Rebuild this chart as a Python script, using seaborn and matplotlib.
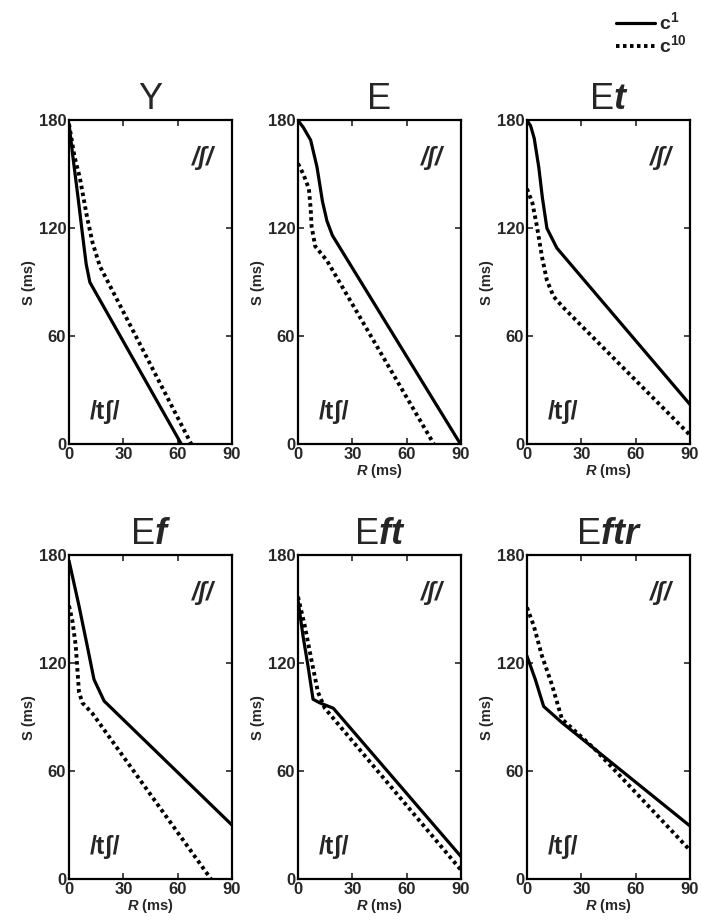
import pandas as pd
import seaborn as sns
import matplotlib.pyplot as plt

# valores (R em ms, S em ms)
titles = ["Y", "E", "E$\\it{t}$", "E$\\it{f}$", "E$\\it{ft}$", "E$\\it{ftr}$"]

r_c1 = [
    [0, 2, 5, 8, 9.5, 11.5, 62],
    [0, 3, 7, 10.5, 13.5, 16, 19, 89.7],
    [0, 2, 4, 6.5, 8.5, 11, 16.5, 90],
    [0, 5.5, 10, 13.8, 19.4, 90],
    [0, 2.8, 5.6, 8.3, 12, 19.5, 90],
    [0, 4.6, 9.2, 19.3, 90],
]
s_c1 = [
    [178, 161, 137, 112, 100, 90, 0],
    [180, 176, 169, 154, 135, 124, 116, 0],
    [180, 177, 170, 154, 137, 120, 109, 22],
    [177, 152, 130, 111, 99, 30],
    [155, 135, 118, 100, 98, 95, 12.5],
    [124, 111, 96, 87, 29.5],
]
r_c10 = [
    [0, 3, 6, 10, 13, 17, 67.5],
    [0, 3, 6, 7, 7.5, 9.5, 16, 75],
    [0, 3, 5.5, 8.3, 11, 14.7, 20, 90],
    [0, 1.8, 3.7, 5.5, 7.4, 13, 78.4],
    [0, 3.7, 7.4, 11, 14.8, 90],
    [0, 3.7, 8.3, 13.8, 19.3, 37.7, 90],
]
s_c10 = [
    [178, 160, 148, 126, 112, 99, 0],
    [156, 150, 142, 131, 121, 110, 102, 0],
    [142, 134, 121, 104, 91, 82, 76, 5],
    [152, 144, 130, 104, 98, 92, 0],
    [157, 141, 122, 104, 95, 5],
    [151, 141, 124, 108, 89, 72, 16],
]
x_ticks = [0, 30, 60, 90]
y_ticks = [0, 60, 120, 180]

sns.set_style("ticks", rc={'xtick.direction': 'in', 'ytick.direction': 'in',
                           'axes.edgecolor': 'black'})
plt.rcParams['font.family'] = ['Liberation Sans', 'DejaVu Sans']
plt.rcParams['mathtext.fontset'] = 'custom'
plt.rcParams['mathtext.rm'] = 'Liberation Sans'
plt.rcParams['mathtext.it'] = 'Liberation Sans:italic:bold'
plt.rcParams['mathtext.bf'] = 'Liberation Sans:bold'

fig = plt.figure(figsize=(7.02, 9.22), dpi=100)

lefts = [0.0983, 0.4245, 0.7507]
bottoms = [0.5184, 0.0466]
dot_style = (0, (0.9, 0.9))

for i in range(6):
    ax = fig.add_axes([lefts[i % 3], bottoms[i // 3], 0.2322, 0.351])
    d1 = pd.DataFrame({'R': r_c1[i], 'S': s_c1[i]})
    d10 = pd.DataFrame({'R': r_c10[i], 'S': s_c10[i]})
    sns.lineplot(x='R', y='S', data=d1, ax=ax, color='black', linewidth=2.3,
                 estimator=None, label='c$^{\\mathbf{1}}$', legend=False)
    sns.lineplot(x='R', y='S', data=d10, ax=ax, color='black', linewidth=2.8,
                 linestyle=dot_style, estimator=None, label='c$^{\\mathbf{10}}$',
                 legend=False)
    ax.set_xlim(0, 90)
    ax.set_ylim(0, 180)
    ax.set_xticks(x_ticks)
    ax.set_yticks(y_ticks)
    ax.tick_params(top=True, right=True, length=4, width=1.2, pad=2,
                   labelsize=12)
    for lab in ax.get_xticklabels() + ax.get_yticklabels():
        lab.set_fontweight('bold')
    for sp in ax.spines.values():
        sp.set_linewidth(1.6)
    ax.set_title(titles[i], fontsize=26, pad=8)
    ax.set_ylabel("S (ms)", fontsize=10.5, fontweight='bold', labelpad=2)
    if i == 0:
        ax.set_xlabel("")
    else:
        ax.set_xlabel("$\\it{R}$ (ms)", fontsize=10.5, fontweight='bold', labelpad=0)
    ax.text(0.82, 0.885, "/ʃ/", transform=ax.transAxes, fontsize=18,
            ha='center', va='center', style='italic', fontweight='bold')
    ax.text(0.22, 0.10, "/tʃ/", transform=ax.transAxes, fontsize=18,
            ha='center', va='center', fontweight='bold')

handles, labels = fig.axes[0].get_legend_handles_labels()
fig.legend(handles, labels, loc='upper right', bbox_to_anchor=(0.995, 1.0),
           frameon=False, handlelength=2.0, handletextpad=0.2,
           labelspacing=0.05, borderaxespad=0.2,
           prop={'weight': 'bold', 'size': 14})

plt.savefig("out.png", dpi=100)
